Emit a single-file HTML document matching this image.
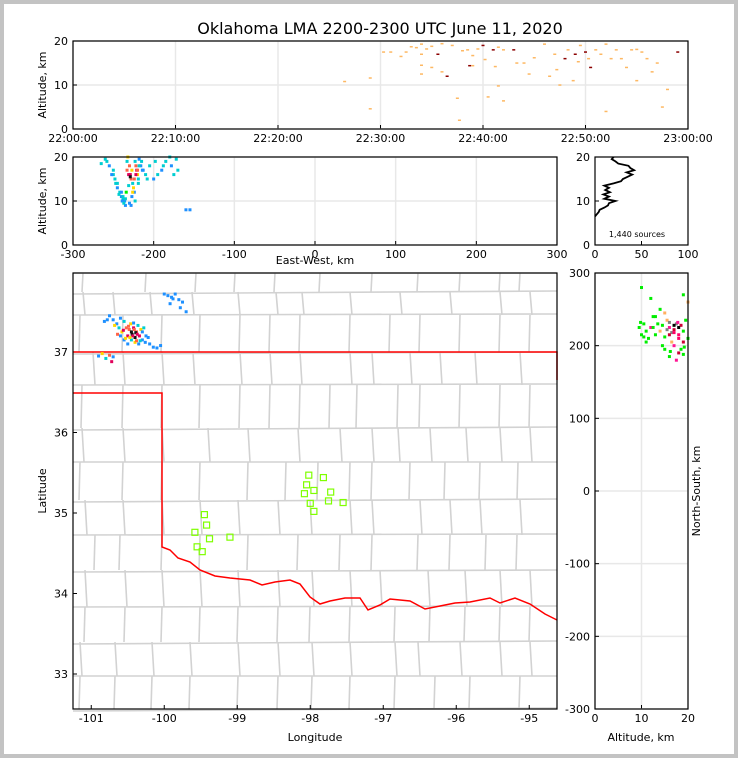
<!DOCTYPE html>
<html><head><meta charset="utf-8"><style>
body{margin:0;background:#fff}
#wrap{position:relative;width:730px;height:750px;border:4px solid #c3c3c3;background:#fff;overflow:hidden}
svg{position:absolute;left:-4px;top:-4px}
text{font-family:"DejaVu Sans","Liberation Sans",sans-serif;fill:#000}
</style></head><body>
<div id="wrap">
<svg id="s" width="738" height="758"></svg>
</div>
<script>
// ---------- data ----------
const timeTicks=["22:00:00","22:10:00","22:20:00","22:30:00","22:40:00","22:50:00","23:00:00"];
const srcTimeMin=[26.5,29,29,30.3,31,32,32.5,33,34,34,34,34,34.5,35,35.6,36,36.5,37,37.5,37.7,38,38.5,38.7,39,39.5,40,40.2,40.5,41,41.2,41.5,42,42,43,43.3,44,44.5,46,46.5,47,47.5,48,48.3,48.8,49,49.5,50,50.3,50.5,51,51.5,52,52.5,53,53.5,54,54.5,55,55.5,56,56.5,57,57.5,58,59,33.5,35,36,39,41.5,45,47.2,49.3,52,55];
const srcTimeAlt=[10.8,11.6,4.6,17.5,17.5,16.5,17.5,18.7,19.3,17,14.5,12.5,18.2,14,17,13,12,19,7,2,17.8,18,14.4,14.4,18.2,19,15.8,7.3,18,14.2,9.8,18,6.4,18,15,15,12.5,19.3,12,17,10,16,18,11,17,19,17.5,16,14,18,17,4,16,18,16,14,18,11,17.5,16,13,15,5,9,17.5,18.5,18.8,19.4,16.7,18.6,16.2,13.5,15.3,19.3,18.1];
const srcTimeDark=[0,0,0,0,0,0,0,0,0,0,0,0,0,0,1,0,1,0,0,0,0,0,1,0,0,1,0,0,1,0,0,0,0,1,0,0,0,0,0,0,0,1,0,0,1,0,1,0,1,0,0,0,0,0,0,0,0,0,0,0,0,0,0,0,1,0,0,0,0,0,0,0,0,0,0];
const ewKm=[-260,-255,-250,-248,-245,-242,-240,-238,-236,-235,-233,-232,-230,-229,-228,-227,-226,-225,-224,-223,-222,-221,-220,-219,-218,-216,-215,-213,-210,-205,-200,-195,-190,-185,-180,-178,-175,-160,-155,-250,-245,-240,-238,-235,-230,-228,-226,-224,-222,-220,-218,-233,-231,-229,-265,-258,-252,-247,-243,-239,-237,-234,-231,-227,-223,-219,-214,-208,-198,-188,-172,-170];
const ewAlt=[19.5,18,17,15,13,12,11,10.5,10,9,19,20,18,16,15,17,14,13,12,19,18,17,16,15,19.5,18,19,17,16,18,15,16,17,19,20,18,16,8,8,16,14,12,11,10.5,9.5,9,12,15,16,17,18,17,16,15.5,18.5,19,16,14,11.5,10,9.5,12,13.5,11,10,14,17,15,19,18,19.5,17];
const ewColor=[2,1,2,2,1,2,1,2,1,1,2,3,4,5,4,3,2,3,1,2,4,5,3,2,1,1,2,1,2,2,1,2,1,2,2,1,2,1,1,2,2,1,2,2,1,1,3,4,5,4,2,4,5,6,2,2,1,2,2,1,2,0,2,1,2,2,1,2,2,2,2,2];
const histAlt=[6.5,7,7.5,8,8.5,9,9.5,10,10.5,11,11.5,12,12.5,13,13.5,14,14.5,15,15.5,16,16.5,17,17.5,18,18.5,19,19.5,20];
const histCount=[0,2,4,5,10,14,15,22,10,15,9,16,11,15,10,20,28,30,35,40,34,42,38,36,25,22,18,20];
const mapLon=[-100.75,-100.7,-100.65,-100.62,-100.6,-100.58,-100.55,-100.52,-100.5,-100.48,-100.46,-100.44,-100.42,-100.4,-100.38,-100.36,-100.34,-100.32,-100.3,-100.28,-100.5,-100.45,-100.4,-100.35,-100.55,-100.6,-100.25,-100.2,-100.15,-100.1,-100.05,-100.0,-99.95,-99.9,-99.85,-99.8,-99.75,-99.7,-100.9,-100.85,-100.8,-100.75,-100.72,-100.7,-100.45,-100.43,-100.41,-100.39,-100.47,-100.37,-100.33,-100.68,-100.64,-100.56,-100.53,-100.49,-100.42,-100.38,-100.3,-100.26,-100.22,-99.92,-99.88,-99.78,-100.78,-100.82];
const mapLat=[37.45,37.4,37.35,37.3,37.42,37.25,37.38,37.3,37.2,37.28,37.35,37.22,37.3,37.18,37.25,37.33,37.2,37.28,37.15,37.3,37.1,37.15,37.12,37.1,37.15,37.2,37.2,37.1,37.06,37.05,37.08,37.72,37.7,37.68,37.72,37.65,37.62,37.5,36.95,36.98,36.92,36.96,36.88,36.94,37.25,37.2,37.28,37.24,37.18,37.22,37.14,37.33,37.22,37.27,37.17,37.32,37.36,37.14,37.25,37.12,37.18,37.6,37.66,37.55,37.4,37.38];
const mapColor=[1,1,1,2,1,3,2,4,5,4,3,6,5,6,4,2,5,3,1,2,1,2,3,1,1,1,1,1,1,1,1,1,1,1,1,1,1,1,1,3,2,4,5,1,6,5,4,6,3,5,2,3,4,5,3,4,1,4,1,1,1,1,1,1,1,1];
const stationLon=[-98.02,-98.05,-98.08,-98.0,-97.95,-97.82,-97.72,-97.75,-97.55,-97.95,-99.45,-99.42,-99.38,-99.58,-99.55,-99.48,-99.1];
const stationLat=[35.47,35.35,35.24,35.12,35.28,35.44,35.26,35.15,35.13,35.02,34.98,34.85,34.68,34.76,34.58,34.52,34.7];
const nsAlt=[9.5,10,10.5,11,11.5,12,12.5,13,13.5,14,14.5,15,15.5,16,16.5,17,17.5,18,18.5,19,19.5,20,15,16,17,18,19,16.5,17.5,18.5,10,12,14,9.8,19,20,15.5,16,17,18,19,10.5,18,17,16,11,13,14.5,16.2,17.8,19.2,12.5,15];
const nsKm=[225,215,230,220,210,225,240,215,230,220,228,212,235,225,218,222,230,215,228,220,235,210,195,185,200,190,188,205,180,195,280,265,250,232,270,260,222,215,228,210,205,212,225,218,232,205,240,200,192,232,198,225,245];
const nsColor=[0,0,0,0,0,1,0,0,0,2,0,0,2,1,3,4,3,5,4,0,0,0,0,0,1,4,0,2,1,0,0,0,0,0,0,2,3,4,6,5,4,0,6,5,3,0,0,0,0,1,0,0,2];
const palette=["#00ee00","#1e90ff","#00ced1","#ffd700","#ff6347","#e0005a","#101010"];
const nsPal=["#00ee00","#ff1493","#ffb060","#808080","#cc0033","#ff0066","#000000"];
// ---------- helpers ----------
const S=document.getElementById('s');const NS='http://www.w3.org/2000/svg';
function el(t,a,p){const e=document.createElementNS(NS,t);for(const k in a)e.setAttribute(k,a[k]);(p||S).appendChild(e);return e;}
function txt(x,y,s,size,anchor,rot){const e=el('text',{x:x,y:y,'font-size':size||11,'text-anchor':anchor||'middle'});if(rot)e.setAttribute('transform','rotate('+rot+' '+x+' '+y+')');e.textContent=s;return e;}
const tx=t=>73+t/60*615, ty=a=>129-a/20*88;
const ex=v=>73+(v+300)/600*484, ey=a=>245-a/20*88;
const hx=c=>595+c/100*93, hy=a=>245-a/20*88;
const mx=l=>73+(l+101.25)*73, my=l=>352-(l-37)*80.5;
const nx=a=>595+a/20*93, ny=v=>491-v/300*218;
function frame(x,y,w,h,name){const r=el('rect',{x:x,y:y,width:w,height:h,fill:'none',stroke:'#000','stroke-width':1.2});}
function grid(x1,y1,x2,y2){el('line',{x1:x1,y1:y1,x2:x2,y2:y2,stroke:'#e8e8e8','stroke-width':1.5});}
function tick(x1,y1,x2,y2){el('line',{x1:x1,y1:y1,x2:x2,y2:y2,stroke:'#000','stroke-width':1});}
const T=txt(380,34,'Oklahoma LMA 2200-2300 UTC June 11, 2020',16);
// ---- top panel ----
timeTicks.forEach((s,i)=>{const x=tx(i*10);grid(x,41,x,129);tick(x,129,x,125);txt(x,142,s,11);});
[0,10,20].forEach(a=>{grid(73,ty(a),688,ty(a));tick(73,ty(a),77,ty(a));txt(68,ty(a)+4,a,11,'end');});
srcTimeMin.forEach((t,i)=>{const r=el('rect',{x:tx(t)-1.5,y:ty(srcTimeAlt[i])-0.7,width:3,height:1.5,fill:srcTimeDark[i]?'#8b0000':'#fdb863'});});
frame(73,41,615,88,'time-height-panel');
txt(46,85,'Altitude, km',11,'middle',-90);
// ---- EW panel ----
[-300,-200,-100,0,100,200,300].forEach(v=>{const x=ex(v);grid(x,157,x,245);tick(x,245,x,241);txt(x,258,v,11);});
[0,10,20].forEach(a=>{grid(73,ey(a),557,ey(a));tick(73,ey(a),77,ey(a));txt(68,ey(a)+4,a,11,'end');});
ewKm.forEach((v,i)=>{const r=el('rect',{x:ex(v)-1.5,y:ey(ewAlt[i])-1.5,width:3,height:3,fill:palette[ewColor[i]]});});
frame(73,157,484,88,'east-west-panel');
txt(46,201,'Altitude, km',11,'middle',-90);
txt(315,264,'East-West, km',11);
// ---- histogram ----
[0,50,100].forEach(c=>{tick(hx(c),245,hx(c),241);txt(hx(c),258,c,11);});
[0,10,20].forEach(a=>{tick(595,hy(a),599,hy(a));txt(590,hy(a)+4,a,11,'end');});
const hp=histAlt.map((a,i)=>hx(histCount[i])+','+hy(a)).join(' ');
const hl=el('polyline',{points:hp,fill:'none',stroke:'#000','stroke-width':1.8});
txt(637,237,'1,440 sources',8);
frame(595,157,93,88,'altitude-histogram-panel');
// ---- map ----
const g=el('g',{stroke:'#d2d2d2','stroke-width':1.6,fill:'none'});
const rows=[273,292,315,352,385,428,462,500,535,570,607,642,676,709];
const colsets=[[83,146,196,235,275,320,372,418,460,500,520],[83,113,150,192,238,276,302,350,400,450,500,530],[80,123,162,200,240,270,300,350,390,420,460,500,530],[93,123,162,193,240,270,300,350,372,410,440,475,520],[82,123,162,200,240,270,300,330,357,398,420,460,500,530],[82,123,162,208,248,298,340,372,398,430,466,500,530],[80,123,162,200,248,286,318,350,372,410,445,480,518],[85,123,162,200,238,278,310,350,372,420,450,480,520],[95,120,162,200,248,298,340,372,418,450,486,517],[85,125,162,200,238,278,312,350,380,428,465,500,530],[85,125,162,200,238,278,310,350,395,430,465,500,530],[80,115,152,190,238,278,312,350,395,418,460,500,530],[80,115,152,190,238,278,312,350,395,435,470,520]];
rows.forEach((y,i)=>{el('line',{x1:73,y1:y+(i%2?2:0),x2:557,y2:y-(i%3?1:0)},g);if(i<colsets.length)colsets[i].forEach(x=>el('line',{x1:x,y1:y,x2:x+(i%2?2:-1),y2:rows[i+1]},g));});

[-101,-100,-99,-98,-97,-96,-95].forEach(l=>{tick(mx(l),709,mx(l),705);txt(mx(l),722,l,11);});
[33,34,35,36,37].forEach(l=>{tick(73,my(l),77,my(l));txt(68,my(l)+4,l,11,'end');});
const rr=[[162,547],[170,550],[178,558],[190,562],[200,570],[215,576],[230,578],[250,580],[262,585],[275,582],[290,580],[300,584],[310,597],[320,604],[330,601],[345,598],[360,598],[368,610],[380,605],[390,599],[410,601],[425,609],[440,606],[455,603],[470,602],[490,598],[500,603],[515,598],[530,604],[545,614],[557,620]];
const b1=el('polyline',{points:'73,352 557,352 557,380',fill:'none',stroke:'#ff0000','stroke-width':1.5});
const b2=el('polyline',{points:'73,393 162,393 '+rr.map(p=>p.join(',')).join(' '),fill:'none',stroke:'#ff0000','stroke-width':1.5});
stationLon.forEach((l,i)=>{const r=el('rect',{x:mx(l)-3,y:my(stationLat[i])-3,width:6,height:6,fill:'none',stroke:'#7fff00','stroke-width':1.2});});
mapLon.forEach((l,i)=>{const r=el('rect',{x:mx(l)-1.5,y:my(mapLat[i])-1.5,width:3,height:3,fill:palette[mapColor[i]]});});
frame(73,273,484,436,'plan-view-map');
txt(46,491,'Latitude',11,'middle',-90);
txt(315,741,'Longitude',11);
// ---- NS panel ----
[0,10,20].forEach(a=>{grid(nx(a),273,nx(a),709);tick(nx(a),709,nx(a),705);txt(nx(a),722,a,11);});
[-300,-200,-100,0,100,200,300].forEach(v=>{grid(595,ny(v),688,ny(v));tick(595,ny(v),599,ny(v));txt(590,ny(v)+4,v,11,'end');});
nsAlt.forEach((a,i)=>{const r=el('rect',{x:nx(a)-1.5,y:ny(nsKm[i])-1.5,width:3,height:3,fill:nsPal[nsColor[i]]});});
frame(595,273,93,436,'north-south-panel');
txt(700,491,'North-South, km',11,'middle',-90);
txt(641,741,'Altitude, km',11);
</script>
</body></html>
